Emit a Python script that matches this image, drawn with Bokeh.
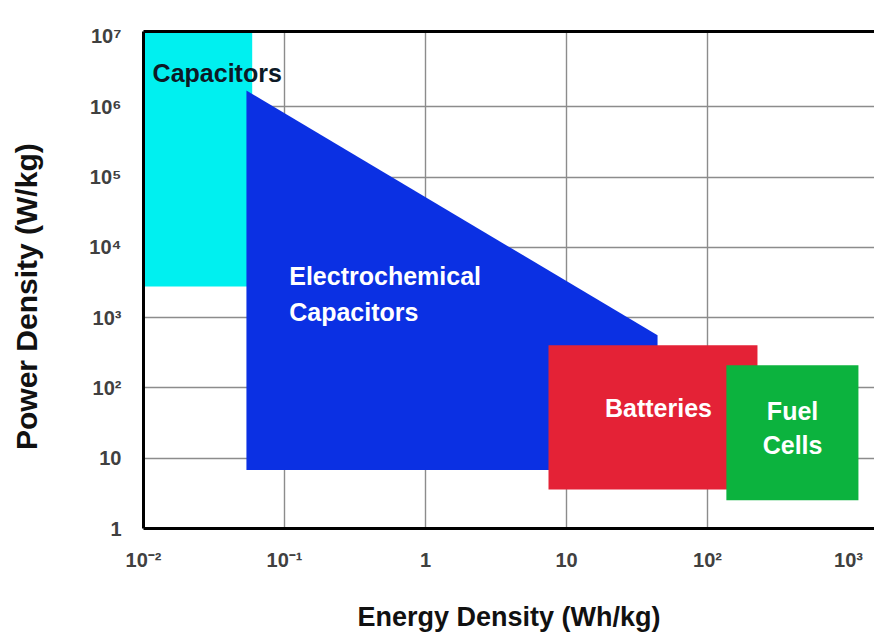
from bokeh.plotting import figure
from bokeh.models import FixedTicker, LogAxis
from bokeh.core.properties import value
from bokeh.embed import file_html
from bokeh.resources import INLINE

# ---- data ----
x_ticks = [0.01, 0.1, 1, 10, 100, 1000]
x_tick_labels = ["10\u207b\u00b2", "10\u207b\u00b9", "1", "10", "10\u00b2", "10\u00b3"]
y_ticks = [1, 10, 1e2, 1e3, 1e4, 1e5, 1e6, 1e7]
y_tick_labels = ["1", "10", "10\u00b2", "10\u00b3", "10\u2074", "10\u2075", "10\u2076", "10\u2077"]

# Capacitors rectangle (Wh/kg, W/kg)
cap_left, cap_right, cap_bottom, cap_top = 0.01, 0.059, 2760, 1.3e7
# Electrochemical capacitors polygon
ec_x = [0.0537, 44.2, 44.2, 0.0537]
ec_y = [1.7e6, 562, 6.8, 6.8]
# Batteries rectangle
bat_left, bat_right, bat_bottom, bat_top = 7.45, 226, 3.6, 403
# Fuel cells rectangle
fc_left, fc_right, fc_bottom, fc_top = 136, 1175, 2.53, 210

# region labels (anchor points in data space)
dark_label_x = [0.0116]
dark_label_y = [10 ** 6.486]
dark_label_text = ["Capacitors"]
ec_label_x = [0.108]
ec_label_y = [10 ** 3.332]
ec_label_text = ["Electrochemical\nCapacitors"]
white_label_x = [44.9, 10 ** 2.603]
white_label_y = [10 ** 1.713, 10 ** 1.429]
white_label_text = ["Batteries", "Fuel\nCells"]

FONT = "Liberation Sans"
NBSP = "\u00a0"

p = figure(width=874, height=634,
           x_axis_type="log", y_axis_type="log",
           x_range=(0.01, 10 ** 3.184), y_range=(1, 10 ** 7.07),
           output_backend="svg", toolbar_location=None,
           min_border_left=143, min_border_right=0,
           min_border_top=31, min_border_bottom=106,
           x_axis_label="Energy Density (Wh/kg)",
           y_axis_label="Power Density (W/kg)" + NBSP * 4)
p.outline_line_color = None
p.background_fill_color = "white"
p.border_fill_color = "white"

# shapes
p.quad(left=[cap_left], right=[cap_right], bottom=[cap_bottom], top=[cap_top],
       fill_color="#00F0F0", line_color=None)
p.patch(ec_x, ec_y, fill_color="#0B30E3", line_color=None)
p.quad(left=[bat_left], right=[bat_right], bottom=[bat_bottom], top=[bat_top],
       fill_color="#E42236", line_color=None)
p.quad(left=[fc_left], right=[fc_right], bottom=[fc_bottom], top=[fc_top],
       fill_color="#0CB33E", line_color=None)

# labels
p.text(x=dark_label_x, y=dark_label_y, text=dark_label_text,
       text_font=value(FONT), text_font_style="bold", text_font_size="25px",
       text_color="#0d1a26", text_align="left", text_baseline="middle")
p.text(x=ec_label_x, y=ec_label_y, text=ec_label_text,
       text_font=value(FONT), text_font_style="bold", text_font_size="25px",
       text_color="white", text_align="left", text_baseline="middle",
       text_line_height=1.28)
p.text(x=white_label_x, y=white_label_y, text=white_label_text,
       text_font=value(FONT), text_font_style="bold", text_font_size="25px",
       text_color="white", text_align="center", text_baseline="middle",
       text_line_height=1.24)

# axes
for ax, ticks, labels in ((p.xaxis[0], x_ticks, x_tick_labels),
                          (p.yaxis[0], y_ticks, y_tick_labels)):
    ax.ticker = FixedTicker(ticks=ticks)
    ax.major_label_overrides = dict(zip(ticks, labels))
    ax.axis_line_color = "black"
    ax.axis_line_width = 3
    ax.major_tick_line_color = None
    ax.major_tick_in = 0
    ax.major_tick_out = 0
    ax.minor_tick_line_color = None
    ax.major_label_text_font = FONT
    ax.major_label_text_font_style = "bold"
    ax.major_label_text_font_size = "20px"
    ax.major_label_text_color = "#404040"
    ax.axis_label_text_font = FONT
    ax.axis_label_text_font_style = "bold"
    ax.axis_label_text_color = "#111111"

p.xaxis[0].axis_label_text_font_size = "27px"
p.yaxis[0].axis_label_text_font_size = "30px"
p.xaxis[0].major_label_standoff = 20
p.xaxis[0].axis_label_standoff = 28
p.yaxis[0].major_label_standoff = 22
p.yaxis[0].axis_label_standoff = 43

top_axis = LogAxis(ticker=FixedTicker(ticks=[]), axis_line_color="black",
                   axis_line_width=3, major_tick_line_color=None,
                   minor_tick_line_color=None, major_tick_in=0, major_tick_out=0,
                   major_label_text_font_size="0px")
p.add_layout(top_axis, "above")

# grid
p.xgrid.ticker = FixedTicker(ticks=[0.1, 1, 10, 100])
p.ygrid.ticker = FixedTicker(ticks=[10, 1e2, 1e3, 1e4, 1e5, 1e6])
p.grid.grid_line_color = "#8c8c8c"
p.grid.grid_line_width = 1.4

open("out.html", "w").write(file_html(p, INLINE))
